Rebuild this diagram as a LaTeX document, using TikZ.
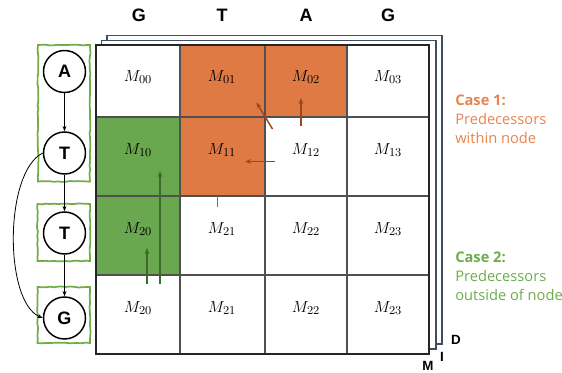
\documentclass[tikz,border=0pt]{standalone}
\usepackage{fontspec}
\setmainfont{Liberation Sans}
\newfontfamily\casefont{Open Sans}
\usetikzlibrary{decorations.pathmorphing,arrows.meta}
\definecolor{orng}{HTML}{DF7A45}
\definecolor{grn}{HTML}{6AA84F}
\definecolor{boxgrn}{HTML}{70AD47}
\definecolor{darkgrn}{HTML}{3B6A2B}
\definecolor{brwn}{HTML}{A0461C}
\definecolor{slate}{HTML}{3F4E60}
\definecolor{gridc}{HTML}{505050}
\definecolor{caseorg}{HTML}{E6844F}
\definecolor{casegrn}{HTML}{6BAE4A}
\definecolor{tickblue}{HTML}{4F7FAF}
\tikzset{
  layer/.style={draw=slate, line width=0.9pt, fill=white},
  gridline/.style={draw=gridc, line width=0.8pt},
  lbl/.style={font=\fontsize{12.5}{13}\selectfont, inner sep=0pt},
  hdr/.style={font=\fontsize{13.5}{15}\bfseries, inner sep=0pt},
  gnode/.style={circle, draw=black, line width=1.1pt, minimum size=31.5pt, inner sep=0pt, font=\fontsize{13.5}{15}\bfseries},
  gbox/.style={draw=boxgrn, line width=1.3pt, decorate, decoration={random steps, segment length=3pt, amplitude=0.35pt}},
  garr/.style={-{Stealth[length=4pt,width=3pt]}, line width=0.6pt},
  oarr/.style={brwn, line width=1.1pt, -{Stealth[length=4.5pt,width=3.5pt]}},
  darr/.style={darkgrn, line width=1.1pt, -{Stealth[length=4.5pt,width=3.5pt]}},
  casetxt/.style={anchor=west, align=left, inner sep=0pt, font=\casefont\fontsize{11}{14.4}\selectfont},
  corner/.style={font=\fontsize{10}{11}\bfseries, inner sep=0pt}
}
\begin{document}
\begin{tikzpicture}[x=0.75pt,y=-0.75pt]
\useasboundingbox (0,0) rectangle (562,373);
% stacked layers
\draw[layer] (107,35.5) rectangle (442,344);
\draw[layer] (101.5,40.5) rectangle (436,349);
% main grid fills
\fill[white] (96,45) rectangle (429,354);
\fill[orng] (180,45) rectangle (347,117);
\fill[orng] (180,117) rectangle (265,196);
\fill[grn] (96,117) rectangle (180,275);
% grid lines
\draw[gridline] (180,45) -- (180,354);
\draw[gridline] (265,45) -- (265,354);
\draw[gridline] (347,45) -- (347,354);
\draw[gridline] (96,117) -- (429,117);
\draw[gridline] (96,196) -- (429,196);
\draw[gridline] (96,275) -- (429,275);
\draw[gridline, draw=black!85] (96,45) rectangle (429,354);
% column headers
\node[hdr] (h0) at (139,15) {G};
\node[hdr] (h1) at (222,15) {T};
\node[hdr] (h2) at (306,15) {A};
\node[hdr] (h3) at (388,15) {G};
% cell labels
\node[lbl] (m00) at (138,77) {$M_{00}$};
\node[lbl] (m01) at (222,77) {$M_{01}$};
\node[lbl] (m02) at (306,77) {$M_{02}$};
\node[lbl] (m03) at (388,77) {$M_{03}$};
\node[lbl] (m10) at (138,150) {$M_{10}$};
\node[lbl] (m11) at (222,150) {$M_{11}$};
\node[lbl] (m12) at (306,150) {$M_{12}$};
\node[lbl] (m13) at (388,150) {$M_{13}$};
\node[lbl] (m20) at (138,229) {$M_{20}$};
\node[lbl] (m21) at (222,229) {$M_{21}$};
\node[lbl] (m22) at (306,229) {$M_{22}$};
\node[lbl] (m23) at (388,229) {$M_{23}$};
\node[lbl] (m30) at (138,308) {$M_{20}$};
\node[lbl] (m31) at (222,308) {$M_{21}$};
\node[lbl] (m32) at (306,308) {$M_{22}$};
\node[lbl] (m33) at (388,308) {$M_{23}$};
% predecessor arrows
\coordinate (o1s) at (275,161.5); \coordinate (o1e) at (245,161.5);
\coordinate (o2s) at (301,126);   \coordinate (o2e) at (301,98);
\coordinate (o3s) at (272.5,129); \coordinate (o3e) at (256.5,102.5);
\coordinate (g1s) at (160,284);   \coordinate (g1e) at (160,171);
\coordinate (g2s) at (147,284);   \coordinate (g2e) at (147,248);
\draw[oarr] (o1s) -- (o1e);
\draw[oarr] (o2s) -- (o2e);
\draw[oarr] (o3s) -- (o3e);
\draw[darr] (g1s) -- (g1e);
\draw[darr] (g2s) -- (g2e);
\coordinate (t1) at (217,196.5); \coordinate (t2) at (217,207);
\draw[tickblue, line width=0.6pt] (t1) -- (t2);
% graph on the left
\draw[gbox] (38,45) rectangle (90,181.5);
\draw[gbox] (37.5,204) rectangle (90,261);
\draw[gbox] (37.5,287) rectangle (90,343);
\node[gnode] (A) at (64.5,71.5) {A};
\node[gnode] (T1) at (64.5,153) {T};
\node[gnode] (T2) at (64.5,233) {T};
\node[gnode] (G) at (64.5,318) {G};
\draw[garr] (A) -- (T1);
\draw[garr] (T1) -- (T2);
\draw[garr] (T2) -- (G);
\draw[garr] (T1.west) .. controls (4,172) and (4,302) .. (G.west);
% case texts
\node[casetxt, text=caseorg] (c1) at (455,119) {\textbf{Case 1:}\\Predecessors\\within node};
\node[casetxt, text=casegrn] (c2) at (455,276.5) {\textbf{Case 2:}\\Predecessors\\outside of node};
% layer labels
\node[corner] (lD) at (456,340) {D};
\node[corner] (lI) at (442,357) {I};
\node[corner] (lM) at (428,366) {M};
\end{tikzpicture}
\end{document}
